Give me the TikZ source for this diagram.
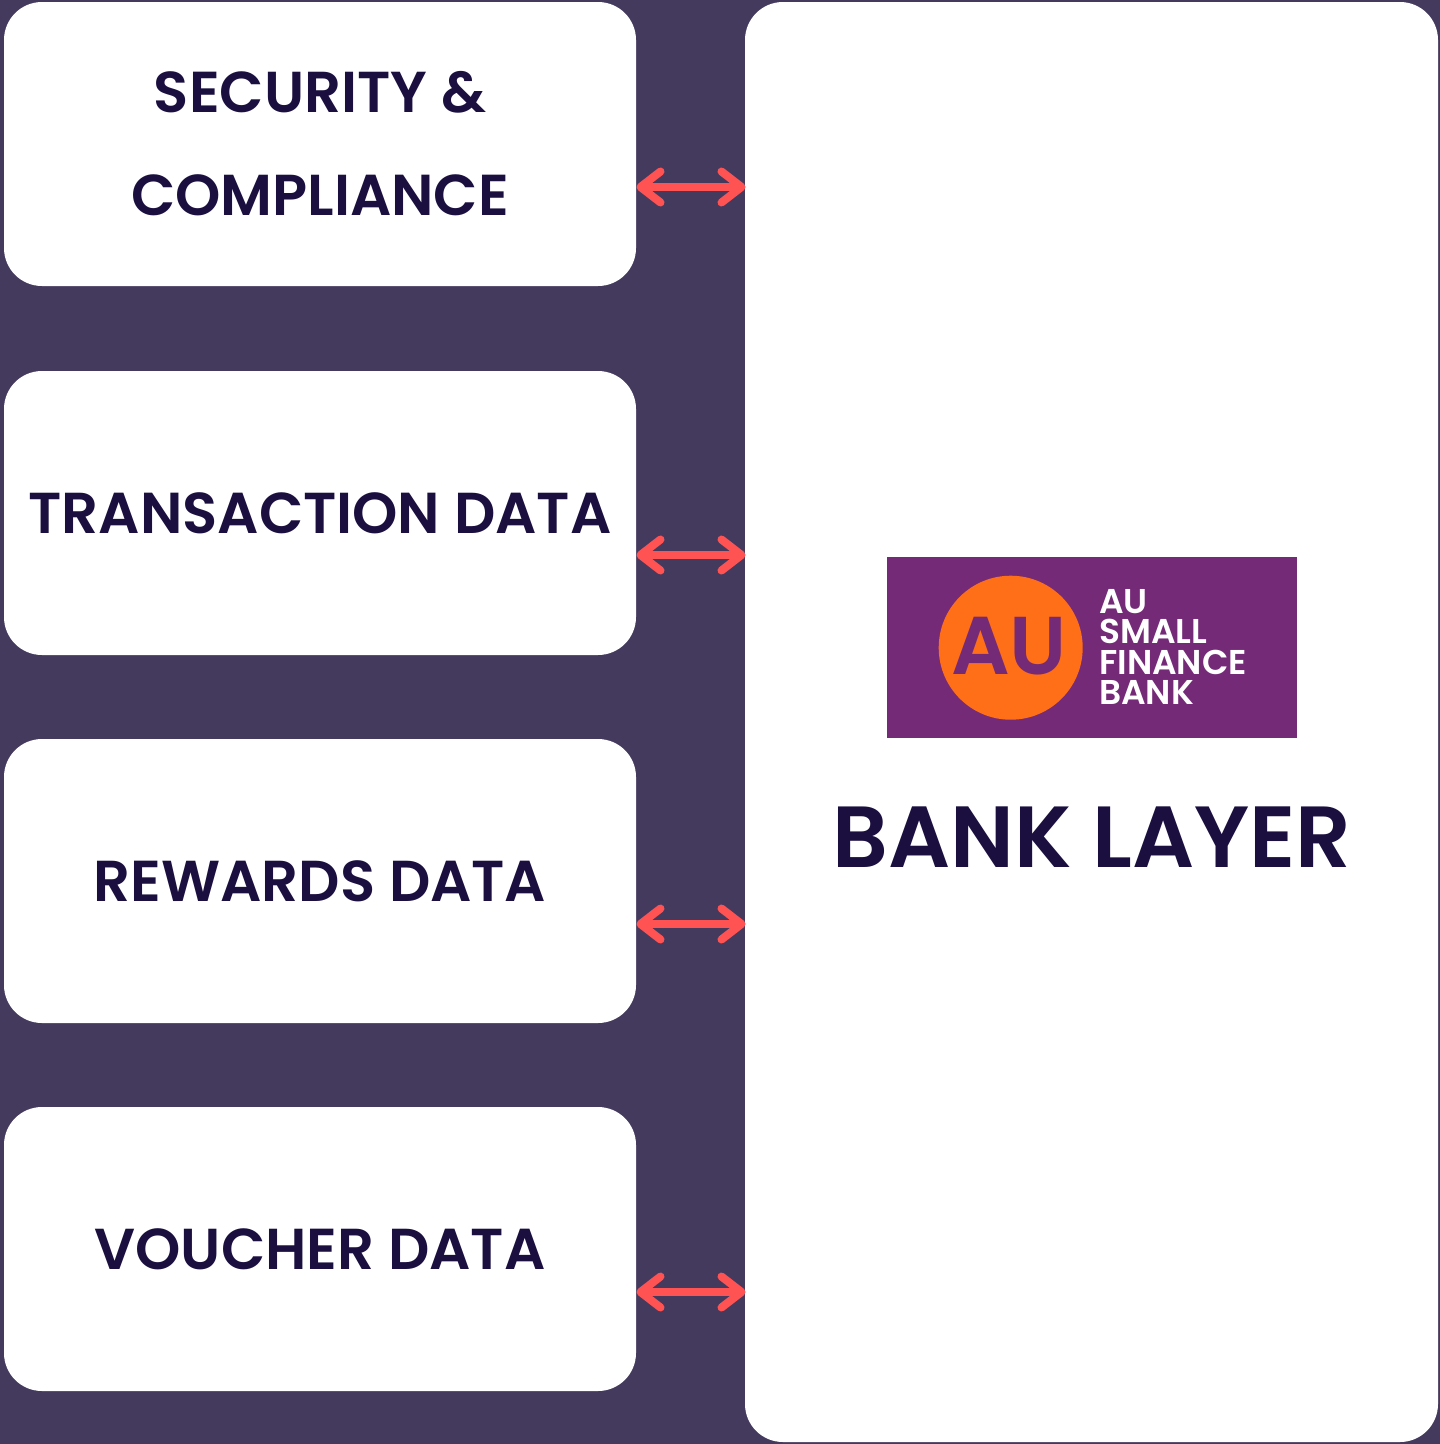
\documentclass[tikz,border=0pt]{standalone}
\usepackage{fontspec}
\usetikzlibrary{arrows.meta}
\setmainfont{Poppins SemiBold}
\definecolor{bgc}{HTML}{443A5E}
\definecolor{ink}{HTML}{1B0F40}
\definecolor{arr}{HTML}{FF5252}
\definecolor{logop}{HTML}{752A78}
\definecolor{logoo}{HTML}{FF6F17}
\tikzset{
 panel/.style={fill=white,rounded corners=38pt,inner sep=0pt,outer sep=0pt,text=ink,align=center,anchor=north west},
 sidebox/.style={panel,minimum width=632pt,minimum height=284pt,font=\fontsize{57.7}{103}\selectfont},
 link/.style={arr,line width=8pt,line cap=round,{Straight Barb[length=20pt,width=31pt,round]}-{Straight Barb[length=20pt,width=31pt,round]},shorten <=0.5pt,shorten >=-0.5pt},
 logotxt/.style={text=white,align=left,inner sep=0pt,font=\fontsize{34.4}{30.5}\selectfont}
}
\begin{document}
\begin{tikzpicture}[x=1pt,y=-1pt]
\useasboundingbox (0,0) rectangle (1440,1444);
\fill[bgc] (0,0) rectangle (1440,1444);
\node[sidebox] (sec) at (4,2) {SECURITY \&\\COMPLIANCE};
\node[sidebox] (trn) at (4,371) {TRANSACTION DATA};
\node[sidebox] (rew) at (4,739) {REWARDS DATA};
\node[sidebox] (vou) at (4,1107) {VOUCHER DATA};
\node[panel,minimum width=693pt,minimum height=1440pt] (bank) at (745,2) {};
\node[fill=logop,minimum width=410pt,minimum height=181pt,inner sep=0pt,outer sep=0pt,anchor=north west] (logo) at (887,557) {};
\node[circle,fill=logoo,minimum size=144pt,inner sep=0pt] (disc) at (1010.7,647.7) {};
\node[text=logop,inner sep=0pt,font=\fontsize{82}{82}\selectfont] (au) at (1009,646) {AU};
\node[logotxt,anchor=base west] (wordmark) at (1099,704.5) {AU\\SMALL\\FINANCE\\BANK};
\node[text=ink,inner sep=0pt,font=\fontsize{86.8}{86.8}\selectfont] (title) at (1092,837) {BANK LAYER};
\foreach \n/\y in {sec/187,trn/555,rew/924,vou/1292}{
  \coordinate (\n p) at (sec.east |- 0,\y);
  \coordinate (\n q) at (bank.west |- 0,\y);
  \draw[link] (\n p) -- (\n q);
}
\end{tikzpicture}
\end{document}
